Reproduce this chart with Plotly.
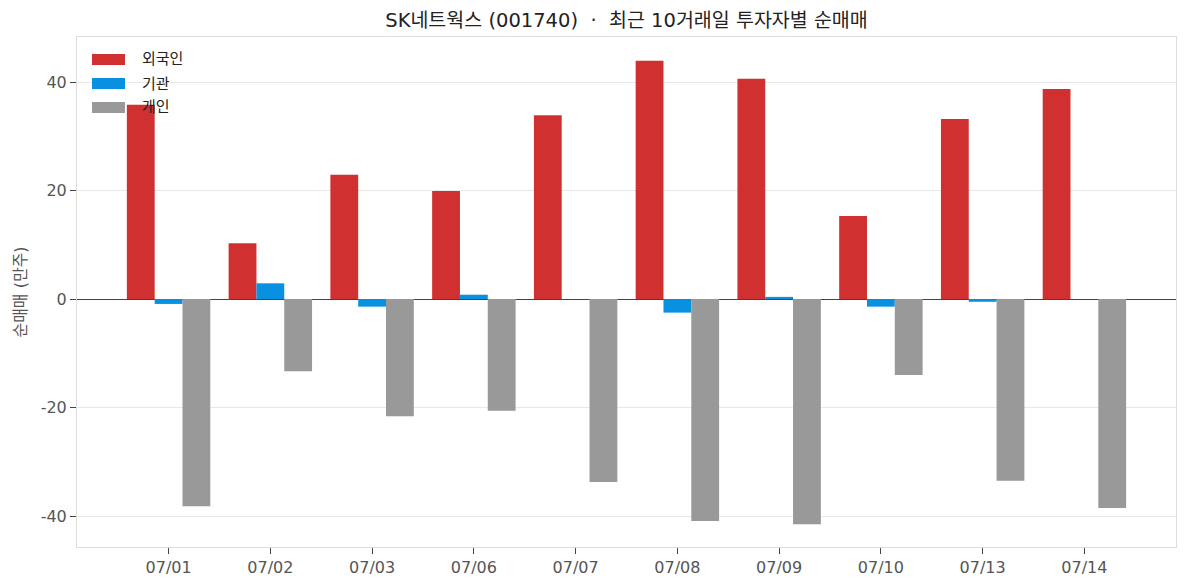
import plotly.graph_objects as go

dates = ["07/01", "07/02", "07/03", "07/06", "07/07", "07/08", "07/09", "07/10", "07/13", "07/14"]
foreign = [35.8, 10.3, 22.9, 19.9, 33.9, 43.9, 40.6, 15.3, 33.2, 38.7]
institution = [-0.9, 2.9, -1.4, 0.8, 0.0, -2.5, 0.4, -1.4, -0.5, 0.0]
individual = [-38.2, -13.3, -21.6, -20.6, -33.7, -40.9, -41.5, -14.0, -33.5, -38.5]
series_names = ["외국인", "기관", "개인"]
series_colors = ["#d03030", "#0a90e0", "#999999"]
y_tickvals = [-40, -20, 0, 20, 40]
y_ticktext = ["-40", "-20", "0", "20", "40"]

FONT = "DejaVu Sans, Noto Sans CJK KR"

# plot area in pixels (for the hand-made legend)
L, R, T, B = 77, 1176, 37, 547
def px(x):
    return (x - L) / (R - L)
def py(y):
    return (B - y) / (B - T)

fig = go.Figure()
for name, vals, col in zip(series_names, [foreign, institution, individual], series_colors):
    fig.add_trace(go.Bar(x=dates, y=vals, name=name, marker_color=col, marker_line_width=0,
                         showlegend=False))

shapes = []
annotations = []
for i, (name, col) in enumerate(zip(series_names, series_colors)):
    cy = 59.5 + i * 24
    shapes.append(dict(type="rect", xref="paper", yref="paper", x0=px(92), x1=px(125),
                       y0=py(cy + 5.5), y1=py(cy - 5.5), fillcolor=col, line_width=0, layer="above"))
    annotations.append(dict(xref="paper", yref="paper", x=px(140), y=py(cy), text=name,
                            showarrow=False, xanchor="left", yanchor="middle",
                            font=dict(family=FONT, size=15, color="#222222")))

fig.update_layout(
    width=1187, height=587,
    margin=dict(l=L, r=1187 - R, t=T, b=587 - B),
    paper_bgcolor="white", plot_bgcolor="white",
    barmode="group", bargap=0.18, bargroupgap=0,
    font=dict(family=FONT, color="#555555", size=15),
    title=dict(text="SK네트웍스 (001740)  ·  최근 10거래일 투자자별 순매매", x=0.5, xref="paper",
               y=1 - 20 / 587, yref="container", yanchor="middle",
               font=dict(family=FONT, size=19.5, color="#222222")),
    shapes=shapes, annotations=annotations,
    xaxis=dict(range=[-0.9, 9.9], showgrid=False, ticks="outside", ticklen=6, tickcolor="#444444",
               showline=True, linecolor="#dddddd", mirror=True, tickfont=dict(size=16, color="#555555")),
    yaxis=dict(range=[-45.7, 48.3], tickvals=y_tickvals, ticktext=y_ticktext, ticks="outside", ticklen=6,
               tickcolor="#444444", gridcolor="#e8e8e8", showline=True, linecolor="#dddddd", mirror=True,
               zeroline=True, zerolinecolor="#444444", zerolinewidth=1.3,
               title=dict(text="순매매 (만주)", font=dict(size=16, color="#555555"), standoff=10),
               tickfont=dict(size=16, color="#555555")),
)

fig.write_html("out.html")
